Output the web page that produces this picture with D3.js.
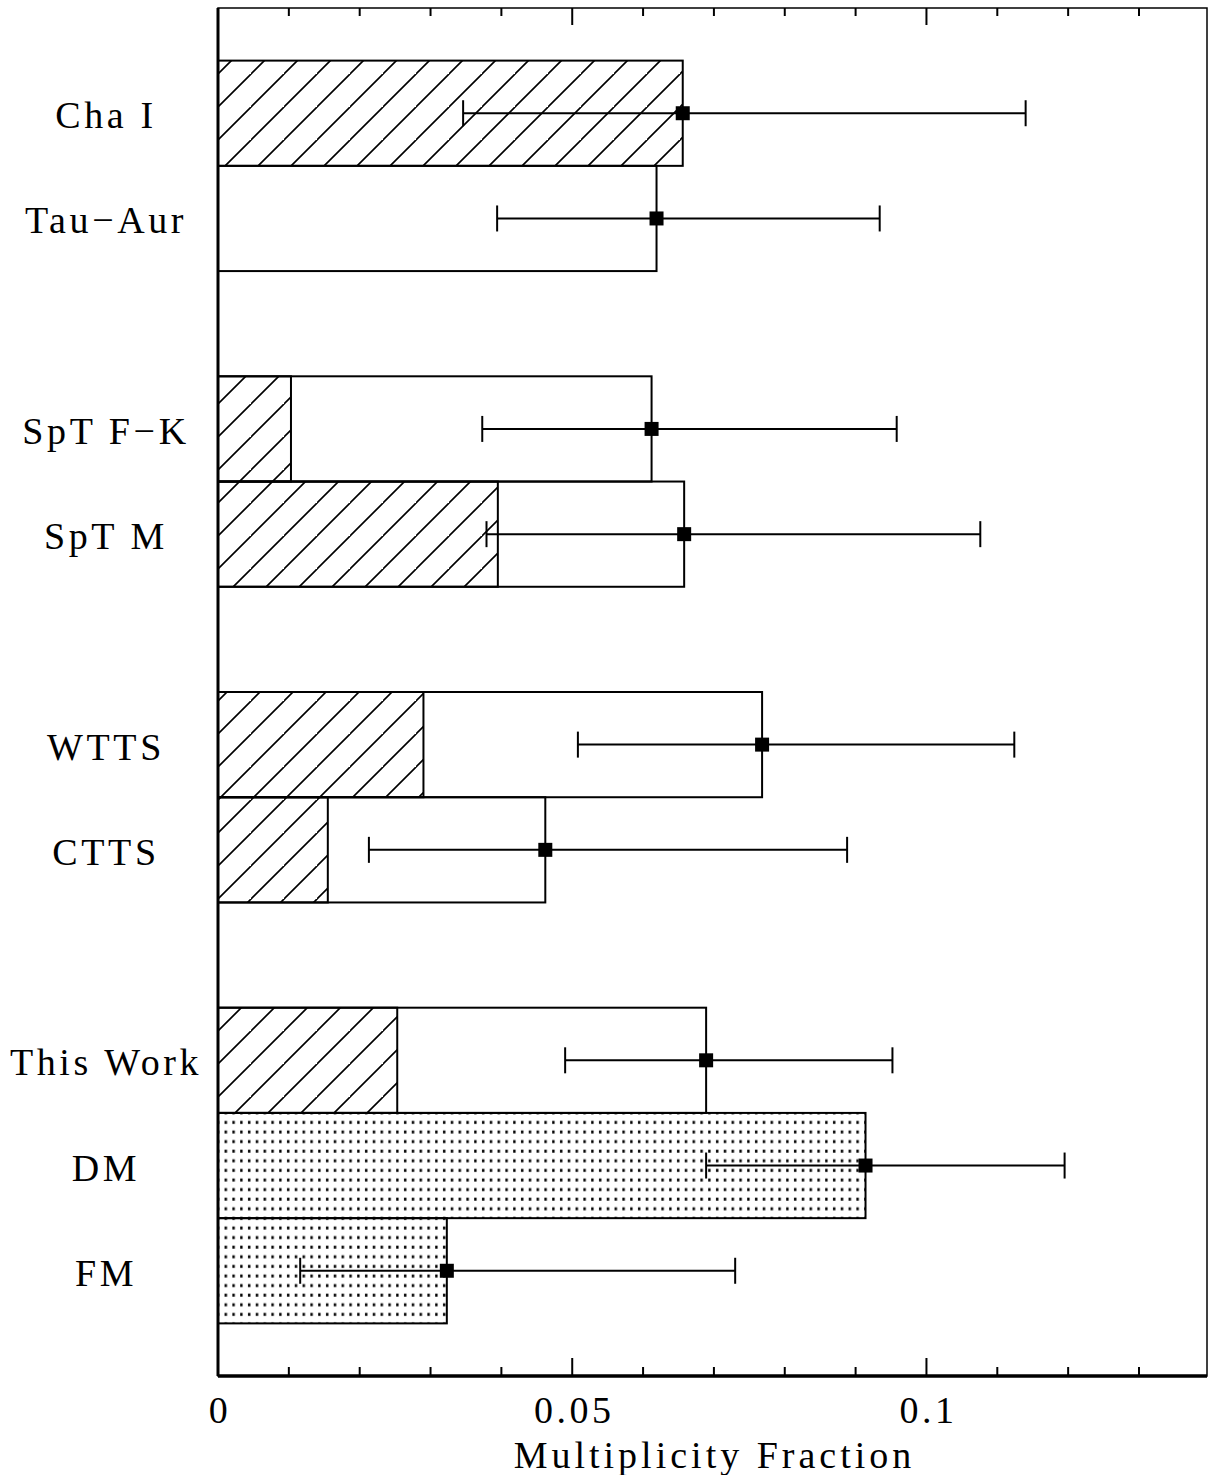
<!DOCTYPE html>
<html>
<head>
<meta charset="utf-8">
<script src="https://cdn.jsdelivr.net/npm/d3@7"></script>
<style>
  body { margin: 0; background: #fff; }
  text { font-family: "Liberation Serif", "Times New Roman", serif; fill: #000; }
</style>
</head>
<body>
<div class="chart"></div>
<script>
// rows from top to bottom; null rows are the gaps between groups
var labels = ['Cha I', 'Tau\u2212Aur', null, 'SpT F\u2212K', 'SpT M', null, 'WTTS', 'CTTS', null, 'This Work', 'DM', 'FM'];
var totals = [0.0656, 0.0619, null, 0.0612, 0.0658, null, 0.0768, 0.0462, null, 0.0689, 0.0914, 0.0323];
var hatched = [0.0656, 0, null, 0.0103, 0.0395, null, 0.0290, 0.0155, null, 0.0253, 0, 0];
var errLow = [0.0346, 0.0394, null, 0.0373, 0.0379, null, 0.0508, 0.0213, null, 0.0490, 0.0689, 0.0116];
var errHigh = [0.1140, 0.0934, null, 0.0958, 0.1076, null, 0.1124, 0.0888, null, 0.0952, 0.1195, 0.0730];
var fills = ['hatch', 'none', null, 'none', 'none', null, 'none', 'none', null, 'none', 'dots', 'dots'];
var xTicks = [0, 0.05, 0.1];
var xLabels = ['0', '0.05', '0.1'];

var W = 1208, H = 1475;
var margin = {top: 8, right: 1, bottom: 99, left: 218};
var width = W - margin.left - margin.right;
var height = H - margin.top - margin.bottom;

var svg = d3.select('.chart')
  .append('svg')
    .attr('width', W)
    .attr('height', H);

var defs = svg.append('defs');

var hp = defs.append('pattern')
    .attr('id', 'hatch')
    .attr('patternUnits', 'userSpaceOnUse')
    .attr('width', 33)
    .attr('height', 33);
hp.append('path')
    .attr('d', 'M-2,35 L35,-2 M-35,35 L2,-2 M31,68 L68,31')
    .attr('stroke', '#000')
    .attr('stroke-width', 1.6);

var dp = defs.append('pattern')
    .attr('id', 'dots')
    .attr('patternUnits', 'userSpaceOnUse')
    .attr('x', 222)
    .attr('y', 1119)
    .attr('width', 7.8)
    .attr('height', 9.6);
dp.append('rect')
    .attr('x', 3)
    .attr('y', 3.5)
    .attr('width', 2.4)
    .attr('height', 3)
    .attr('fill', '#000');

var g = svg.append('g')
    .attr('transform', `translate(${margin.left}, ${margin.top})`);

var xScale = d3.scaleLinear()
  .domain([0, 0.1396])
  .range([0, width]);

var yScale = d3.scaleLinear()
  .domain([-1, 12])
  .range([0, height]);

var rowH = yScale(1) - yScale(0);

var rows = labels.map((d, i) => ({
  label: d, i: i, total: totals[i], hatch: hatched[i],
  lo: errLow[i], hi: errHigh[i], fill: fills[i]
})).filter(d => d.label !== null);

// open / dotted bars
g.selectAll('.bar')
  .data(rows)
  .enter()
  .append('rect')
    .attr('class', 'bar')
    .attr('x', xScale(0))
    .attr('y', d => yScale(d.i) - rowH / 2)
    .attr('width', d => xScale(d.total))
    .attr('height', rowH)
    .attr('fill', d => d.fill === 'dots' ? 'url(#dots)' : (d.fill === 'hatch' ? 'url(#hatch)' : 'none'))
    .attr('stroke', '#000')
    .attr('stroke-width', 2);

// hatched parts
g.selectAll('.hbar')
  .data(rows.filter(d => d.hatch > 0 && d.fill !== 'hatch'))
  .enter()
  .append('rect')
    .attr('class', 'hbar')
    .attr('x', xScale(0))
    .attr('y', d => yScale(d.i) - rowH / 2)
    .attr('width', d => xScale(d.hatch))
    .attr('height', rowH)
    .attr('fill', 'url(#hatch)')
    .attr('stroke', '#000')
    .attr('stroke-width', 2);

// error bars
var eb = g.selectAll('.err')
  .data(rows)
  .enter()
  .append('g')
    .attr('class', 'err');

eb.append('line')
    .attr('x1', d => xScale(d.lo))
    .attr('x2', d => xScale(d.hi))
    .attr('y1', d => yScale(d.i))
    .attr('y2', d => yScale(d.i))
    .attr('stroke', '#000')
    .attr('stroke-width', 2);

eb.append('line')
    .attr('x1', d => xScale(d.lo))
    .attr('x2', d => xScale(d.lo))
    .attr('y1', d => yScale(d.i) - 13)
    .attr('y2', d => yScale(d.i) + 13)
    .attr('stroke', '#000')
    .attr('stroke-width', 2);

eb.append('line')
    .attr('x1', d => xScale(d.hi))
    .attr('x2', d => xScale(d.hi))
    .attr('y1', d => yScale(d.i) - 13)
    .attr('y2', d => yScale(d.i) + 13)
    .attr('stroke', '#000')
    .attr('stroke-width', 2);

eb.append('rect')
    .attr('x', d => xScale(d.total) - 7)
    .attr('y', d => yScale(d.i) - 7)
    .attr('width', 14)
    .attr('height', 14)
    .attr('fill', '#000');

// row labels
g.selectAll('.lab')
  .data(rows)
  .enter()
  .append('text')
    .attr('class', 'lab')
    .attr('x', -112)
    .attr('y', d => yScale(d.i) + 15)
    .attr('text-anchor', 'middle')
    .attr('font-size', 38)
    .attr('letter-spacing', 3.6)
    .text(d => d.label);

// frame
g.append('rect')
    .attr('x', 0)
    .attr('y', 0)
    .attr('width', width)
    .attr('height', height)
    .attr('fill', 'none')
    .attr('stroke', '#000')
    .attr('stroke-width', 1.5);

g.append('line')
    .attr('x1', 0).attr('x2', 0)
    .attr('y1', 0).attr('y2', height)
    .attr('stroke', '#000')
    .attr('stroke-width', 3);

g.append('line')
    .attr('x1', 0).attr('x2', width)
    .attr('y1', height).attr('y2', height)
    .attr('stroke', '#000')
    .attr('stroke-width', 3.5);

// ticks, inward on top and bottom
var minor = d3.range(1, 14).map(d => d / 100);
var isMajor = d => d % 0.05 < 1e-9 || 0.05 - d % 0.05 < 1e-9;

g.selectAll('.tickb')
  .data(minor)
  .enter()
  .append('line')
    .attr('x1', d => xScale(d))
    .attr('x2', d => xScale(d))
    .attr('y1', height)
    .attr('y2', d => height - (isMajor(d) ? 18 : 9))
    .attr('stroke', '#000')
    .attr('stroke-width', 2);

g.selectAll('.tickt')
  .data(minor)
  .enter()
  .append('line')
    .attr('x1', d => xScale(d))
    .attr('x2', d => xScale(d))
    .attr('y1', 0)
    .attr('y2', d => isMajor(d) ? 17 : 8)
    .attr('stroke', '#000')
    .attr('stroke-width', 2);

g.selectAll('.tl')
  .data(xTicks)
  .enter()
  .append('text')
    .attr('x', d => xScale(d) + 2)
    .attr('y', height + 47)
    .attr('text-anchor', 'middle')
    .attr('font-size', 38)
    .attr('letter-spacing', 3.5)
    .text((d, i) => xLabels[i]);

g.append('text')
    .attr('x', width / 2 + 2)
    .attr('y', height + 92)
    .attr('text-anchor', 'middle')
    .attr('font-size', 38)
    .attr('letter-spacing', 4)
    .text('Multiplicity Fraction');
</script>
</body>
</html>
